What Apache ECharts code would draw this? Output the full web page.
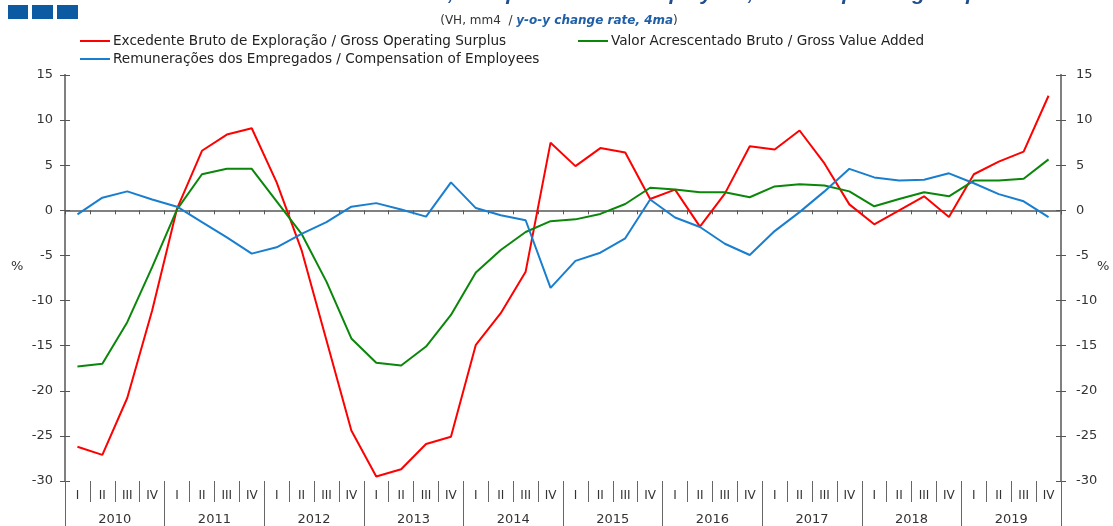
<!DOCTYPE html>
<html>
<head>
<meta charset="utf-8">
<script src="https://cdn.jsdelivr.net/npm/echarts@6/dist/echarts.min.js"></script>
<style>
  html, body { margin: 0; padding: 0; background: #fff; }
  #chart { width: 1113px; height: 526px; }
</style>
</head>
<body>
<div id="chart"></div>
<script>
// quarters 2010 I .. 2019 IV, y-o-y change rate (%), 4 quarter moving average
var years = ['2010', '2011', '2012', '2013', '2014', '2015', '2016', '2017', '2018', '2019'];
var quarterLabels = ['I', 'II', 'III', 'IV'];
var yTicks = [-30, -25, -20, -15, -10, -5, 0, 5, 10, 15];

var surplusName = 'Excedente Bruto de Exploração / Gross Operating Surplus';
var gvaName = 'Valor Acrescentado Bruto / Gross Value Added';
var compName = 'Remunerações dos Empregados / Compensation of Employees';

var surplus = [
  -26.2, -27.1, -20.8, -11.1,
  0.2, 6.6, 8.4, 9.1,
  3.1, -4.4, -14.4, -24.4,
  -29.5, -28.7, -25.9, -25.1,
  -14.9, -11.4, -6.8, 7.5,
  4.9, 6.9, 6.4, 1.25,
  2.3, -1.8, 1.85, 7.1,
  6.75, 8.85, 5.2, 0.66,
  -1.55, 0.0, 1.55, -0.74,
  4.0, 5.4, 6.5, 12.7
];
var gva = [
  -17.3, -17.0, -12.4, -6.3,
  0.1, 4.0, 4.6, 4.6,
  1.0, -2.6, -7.9, -14.2,
  -16.9, -17.2, -15.1, -11.6,
  -6.9, -4.4, -2.4, -1.2,
  -1.0, -0.4, 0.7, 2.5,
  2.3, 2.0, 2.0, 1.45,
  2.65, 2.9, 2.75, 2.1,
  0.45, 1.25, 2.0, 1.55,
  3.3, 3.3, 3.5, 5.65
];
var compensation = [
  -0.45, 1.4, 2.1, 1.2,
  0.4, -1.3, -3.0, -4.8,
  -4.1, -2.6, -1.3, 0.4,
  0.8, 0.1, -0.7, 3.1,
  0.25, -0.55, -1.1, -8.6,
  -5.6, -4.7, -3.1, 1.2,
  -0.8, -1.85, -3.7, -4.95,
  -2.3, -0.2, 2.1, 4.6,
  3.65, 3.3, 3.4, 4.1,
  3.0, 1.8, 1.0, -0.75
];

var quarters = [];
years.forEach(function (y) {
  quarterLabels.forEach(function (q) { quarters.push(q); });
});

var font = "'DejaVu Sans', 'Liberation Sans', Arial, sans-serif";
var axisGray = '#808080';
var textColor = '#333';

function valueAxis(pos, withLabels, inside) {
  return {
    type: 'value',
    position: pos,
    min: yTicks[0],
    max: yTicks[yTicks.length - 1],
    interval: 5,
    axisLine: { show: true, onZero: false, lineStyle: { color: axisGray, width: 2 } },
    axisTick: { show: true, inside: inside, length: 5, lineStyle: { color: '#555', width: 1 } },
    axisLabel: {
      show: withLabels,
      margin: pos === 'left' ? 12 : 15,
      color: textColor,
      fontSize: 13,
      fontFamily: font
    },
    splitLine: { show: false }
  };
}

function legendAt(name, left, top) {
  return {
    data: [name],
    left: left,
    top: top,
    icon: 'rect',
    itemWidth: 30,
    itemHeight: 2,
    itemGap: 0,
    padding: 0,
    textStyle: { fontSize: 13.6, color: '#222', fontFamily: font, padding: [0, 0, 0, -2] }
  };
}

var myChart = echarts.init(document.getElementById('chart'));
myChart.setOption({
  animation: false,
  backgroundColor: '#fff',
  grid: { left: 65, right: 52, top: 75, bottom: 44, containLabel: false },
  title: [
    {
      text: 'Gross Value Added, Compensation of Employees, Gross Operating Surplus',
      left: 250,
      top: -21,
      textStyle: { fontSize: 21, fontWeight: 'bold', fontStyle: 'italic', color: '#1f4e8c', fontFamily: "'Liberation Sans', Arial, sans-serif" }
    },
    {
      text: '(VH, mm4  / {b|y-o-y change rate, 4ma})',
      left: 554,
      textAlign: 'center',
      top: 10,
      textStyle: {
        fontSize: 12, fontWeight: 'normal', color: '#333', fontFamily: font,
        rich: { b: { fontSize: 12, fontWeight: 'bold', fontStyle: 'italic', color: '#1f5fa8', fontFamily: font } }
      }
    }
  ],
  graphic: [
    { type: 'rect', left: 8, top: 5, shape: { width: 20, height: 14 }, style: { fill: '#0b5aa2' } },
    { type: 'rect', left: 32, top: 5, shape: { width: 21, height: 14 }, style: { fill: '#0b5aa2' } },
    { type: 'rect', left: 57, top: 5, shape: { width: 21, height: 14 }, style: { fill: '#0b5aa2' } },
    { type: 'text', left: 11, top: 260, style: { text: '%', fill: textColor, font: '13px ' + font } },
    { type: 'text', left: 1097, top: 260, style: { text: '%', fill: textColor, font: '13px ' + font } }
  ],
  legend: [
    legendAt(surplusName, 80, 34),
    legendAt(gvaName, 578, 34),
    legendAt(compName, 80, 52)
  ],
  xAxis: [
    {
      // axis line across zero
      type: 'category',
      data: quarters,
      boundaryGap: true,
      axisLine: { show: true, onZero: true, onZeroAxisIndex: 0, lineStyle: { color: axisGray, width: 2 } },
      axisTick: { show: true, interval: 0, length: 4, lineStyle: { color: '#555' } },
      axisLabel: { show: false },
      splitLine: { show: false }
    },
    {
      // quarter labels
      type: 'category',
      position: 'bottom',
      data: quarters,
      boundaryGap: true,
      axisLine: { show: false, onZero: false },
      axisTick: { show: true, interval: 0, length: 21, lineStyle: { color: '#666' } },
      axisLabel: { interval: 0, margin: 9, fontSize: 12, color: textColor, fontFamily: font },
      splitLine: { show: false }
    },
    {
      // year labels
      type: 'category',
      position: 'bottom',
      data: years,
      boundaryGap: true,
      axisLine: { show: false, onZero: false },
      axisTick: { show: true, interval: 0, length: 46, lineStyle: { color: '#666' } },
      axisLabel: { interval: 0, margin: 32, fontSize: 13, color: textColor, fontFamily: font },
      splitLine: { show: false }
    }
  ],
  yAxis: [
    valueAxis('left', true, false),
    valueAxis('right', true, false),
    valueAxis('left', false, true),
    valueAxis('right', false, true)
  ],
  series: [
    {
      name: surplusName, type: 'line', data: surplus, xAxisIndex: 0, yAxisIndex: 0,
      symbol: 'none', color: '#ff0000', lineStyle: { width: 2, color: '#ff0000' }
    },
    {
      name: gvaName, type: 'line', data: gva, xAxisIndex: 0, yAxisIndex: 0,
      symbol: 'none', color: '#0a870a', lineStyle: { width: 2, color: '#0a870a' }
    },
    {
      name: compName, type: 'line', data: compensation, xAxisIndex: 0, yAxisIndex: 0,
      symbol: 'none', color: '#1a7ecf', lineStyle: { width: 2, color: '#1a7ecf' }
    }
  ]
});

window.addEventListener('resize', function () {
  myChart.resize();
});
</script>
</body>
</html>
